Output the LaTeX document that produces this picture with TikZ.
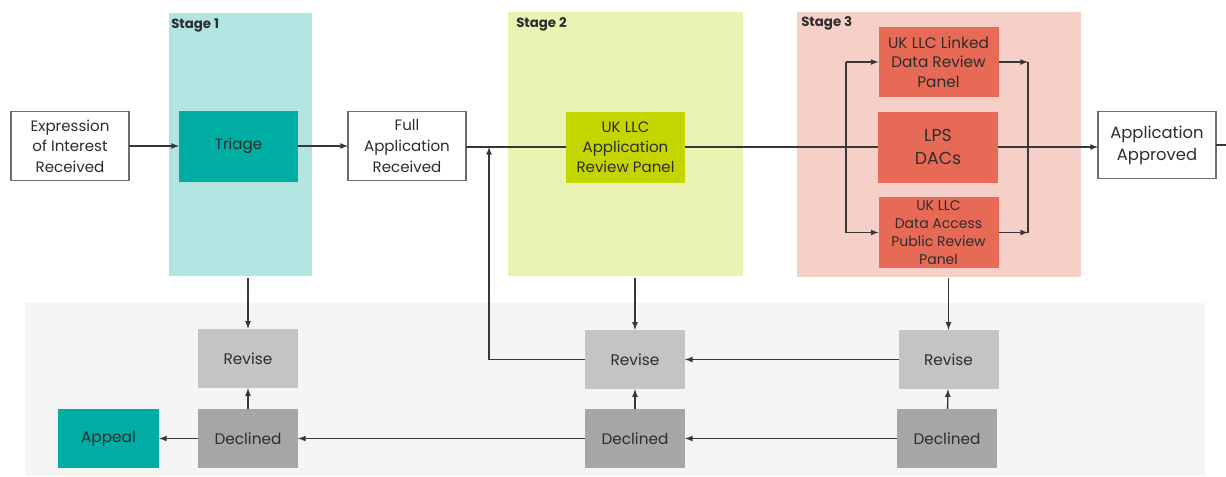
\documentclass[tikz,border=0pt]{standalone}
\usepackage{fontspec}
\setmainfont{Poppins}
\usetikzlibrary{shapes,arrows}
\usetikzlibrary{positioning}
\usetikzlibrary{calc}

\definecolor{txt}{RGB}{45,45,45}
\definecolor{wire}{RGB}{55,55,55}
\definecolor{edge}{RGB}{110,110,110}
\definecolor{backgray}{RGB}{245,245,245}
\definecolor{stageonecol}{RGB}{178,228,226}
\definecolor{stagetwocol}{RGB}{234,242,180}
\definecolor{stagethreecol}{RGB}{246,208,200}
\definecolor{tealbox}{RGB}{0,173,163}
\definecolor{limebox}{RGB}{196,214,0}
\definecolor{redbox}{RGB}{230,106,86}
\definecolor{revisebox}{RGB}{196,196,196}
\definecolor{declinedbox}{RGB}{166,166,166}

\begin{document}
\begin{tikzpicture}[x=0.75pt, y=-0.75pt]
 \useasboundingbox (0,0) rectangle (1226,476);
 \tikzstyle{panel} = [inner sep=0pt, outer sep=0pt];
 \tikzstyle{stagelabel} = [inner sep=0pt, anchor=north west, text=txt, font=\fontsize{10}{11}\selectfont\bfseries];
 \tikzstyle{def} = [inner sep=1pt, outer sep=0pt, align=center, text=txt, font=\fontsize{11.3}{15.5}\selectfont, minimum width=88.5pt, minimum height=52pt];
 \tikzstyle{open} = [def, draw=edge, line width=1.1pt, fill=white];
 \tikzstyle{small} = [def, minimum width=75pt, minimum height=44.5pt, font=\fontsize{11.5}{14}\selectfont];

 % stage panels
 \node (back) [panel, fill=backgray, minimum width=885pt, minimum height=129.75pt] at (615,389.5) {};
 \node (stageA) [panel, fill=stageonecol, minimum width=107.25pt, minimum height=197.25pt] at (240.5,144.5) {};
 \node (stageB) [panel, fill=stagetwocol, minimum width=176.25pt, minimum height=198pt] at (625.5,144) {};
 \node (stageC) [panel, fill=stagethreecol, minimum width=213pt, minimum height=198.75pt] at (939,144.5) {};
 \node [stagelabel] at ($(stageA.north west)+(2,5)$) {Stage 1};
 \node [stagelabel] at ($(stageB.north west)+(8,5)$) {Stage 2};
 \node [stagelabel] at ($(stageC.north west)+(4,4)$) {Stage 3};

 % top row
 \node (interest) [open] at (70,146) {Expression\\of Interest\\Received};
 \node (triage) [def, fill=tealbox, minimum width=89.25pt, minimum height=53.25pt] at (238.5,146) {Triage};
 \node (full) [open] at (407,146) {Full\\Application\\Received};
 \node (review) [def, fill=limebox, minimum width=89.25pt, minimum height=53.25pt, font=\fontsize{11.3}{15}\selectfont] at (625.5,147) {UK LLC\\Application\\Review Panel};
 \node (linked) [def, fill=redbox, minimum width=90pt, minimum height=52.5pt, font=\fontsize{11.5}{14.5}\selectfont] at (938.5,62) {UK LLC Linked\\Data Review\\Panel};
 \node (lps) [def, fill=redbox, minimum width=90pt, minimum height=53.25pt, font=\fontsize{13}{17}\selectfont] at (938,147) {LPS\\DACs};
 \node (public) [def, fill=redbox, minimum width=90pt, minimum height=53.25pt, font=\fontsize{10.5}{13.5}\selectfont] at (938.5,232.5) {UK LLC\\Data Access\\Public Review\\Panel};
 \node (approved) [open, minimum height=50.25pt, font=\fontsize{12.3}{16.5}\selectfont] at (1157,145) {Application\\Approved};

 % bottom rows
 \node (reviseA) [small, fill=revisebox] at (248,358.5) {Revise};
 \node (declinedA) [small, fill=declinedbox] at (248,438.5) {Declined};
 \node (appeal) [small, fill=tealbox, minimum width=75.75pt] at (108.5,438.5) {Appeal};
 \node (reviseB) [small, fill=revisebox] at (635,359.5) {Revise};
 \node (declinedB) [small, fill=declinedbox] at (635,438.5) {Declined};
 \node (reviseC) [small, fill=revisebox] at (948.5,359.5) {Revise};
 \node (declinedC) [small, fill=declinedbox] at (947,438.5) {Declined};

 \tikzstyle{L} = [color=wire, line width=1pt];
 \tikzstyle{C} = [L, ->, >=latex];

 \coordinate (join) at (489,147);
 \coordinate (split) at (846,147);
 \coordinate (merge) at (1028,147);
 \coordinate (exit) at (1226,145);

 \draw [C] (interest) -- (triage);
 \draw [C] (triage) -- (full);
 \draw [L] (full.east |- join) -- (review.west |- join);
 \draw [L] (review) -- (lps);
 \draw [L] (split |- linked) -- (split |- public);
 \draw [C] (split |- linked) -- (linked);
 \draw [C] (split |- public) -- (public.west |- split |- public);
 \draw [L] (merge |- linked) -- (merge |- public);
 \draw [C] (linked) -- (merge |- linked);
 \draw [C] (public) -- (merge |- public);
 \draw [C] (lps.east) -- (approved.west |- lps.east);
 \draw [L] (approved) -- (exit);

 \draw [C] ($(reviseA |- stageA.south)+(0,2)$) -- (reviseA);
 \draw [C] ($(reviseB |- stageB.south)+(0,2)$) -- (reviseB);
 \draw [C] ($(reviseC |- stageC.south)+(0,1)$) -- (reviseC);
 \draw [C] (declinedA) -- (reviseA);
 \draw [C] (declinedB) -- (reviseB);
 \draw [C] (declinedC) -- (reviseC);
 \draw [C] (declinedA) -- (appeal);
 \draw [C] (declinedB) -- (declinedA);
 \draw [C] (declinedC) -- (declinedB);
 \draw [C] (reviseC) -- (reviseB);
 \draw [C] (reviseB) -| (join);
\end{tikzpicture}
\end{document}
